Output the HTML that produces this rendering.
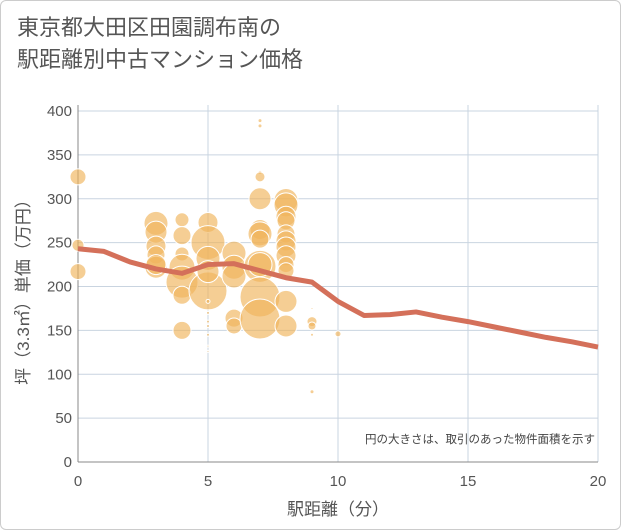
<!DOCTYPE html>
<html><head><meta charset="utf-8"><style>
body{margin:0;background:#fff;font-family:"Liberation Sans","Noto Sans CJK JP",sans-serif;}
#wrap{position:relative;width:619px;height:528px;border:1px solid #ccc;border-radius:6px;overflow:hidden;}
#title{position:absolute;left:16px;top:11px;font-size:22px;line-height:32px;color:#555;}
</style></head><body>
<div id="wrap">
<div id="title">東京都大田区田園調布南の<br>駅距離別中古マンション価格</div>
<svg id="chart" width="621" height="530" style="position:absolute;left:0;top:0"></svg>
</div>
<script>
const xTicks=[0,5,10,15,20];
const yTicks=[0,50,100,150,200,250,300,350,400];
const lineX=[0,1,2,3,4,5,6,7,8,9,10,11,12,13,14,15,16,17,18,19,20];
const lineY=[243,240,228,220,215,225,226,218,210,205,183,167,168,171,165,160,154,148,142,137,131];
const bubX=[0,0,0,3,3,3,3,3,3,4,4,4,4,4,4,4,5,5,5,5,5,5,5,5,5,5,5,5,6,6,6,6,6,7,7,7,7,7,7,7,7,7,7,7,7,8,8,8,8,8,8,8,8,8,8,8,8,9,9,9,9,9,10];
const bubY=[325,247,217,272,262,246,236,222,225,276,258,237,222,205,190,150,273,250,232,195,217,183,170,160,155,145,132,126,238,222,212,164,155,389,383,330,325,300,265,260,254,223,225,188,163,298,293,280,275,260,252,245,235,225,218,183,155,175,160,155,145,80,146];
const bubR=[8,6,8,12,11,10,9,11,10,7,9,7,13,16,9,9,10,17,12,19,11,2,1.5,1.5,1.5,1.5,1,1,12,12,12,9,8,2,2,2,5,11,10,12,9,16,12,20,20,12,12,10,9,9,10,10,10,8,8,11,11,1,5,4,1.5,2,3];
const X=v=>77+v*26, Y=v=>461-v*0.8775;
const svg=document.getElementById('chart'),NS='http://www.w3.org/2000/svg';
function mk(t,a,p){const e=document.createElementNS(NS,t);for(const k in a)e.setAttribute(k,a[k]);(p||svg).appendChild(e);return e;}
yTicks.forEach(v=>{const l=mk('line',{x1:77,x2:597,y1:Y(v),y2:Y(v),stroke:'#c9d4e0','stroke-width':1});


const t=mk('text',{x:71,y:Y(v)+5,'text-anchor':'end','font-size':15,fill:'#555'});t.textContent=v;

});
xTicks.forEach(v=>{const l=mk('line',{x1:X(v),x2:X(v),y1:104,y2:461,stroke:'#c9d4e0','stroke-width':1});


const t=mk('text',{x:X(v),y:485,'text-anchor':'middle','font-size':15,fill:'#555'});t.textContent=v;

});
const ax=mk('line',{x1:77,x2:77,y1:104,y2:461,stroke:'#888'});


const ax2=mk('line',{x1:77,x2:597,y1:461,y2:461,stroke:'#888'});


bubX.forEach((v,i)=>{const c=mk('circle',{cx:X(v),cy:Y(bubY[i]),r:bubR[i],fill:'rgba(240,180,90,0.65)',stroke:'#fff','stroke-width':1});

});
const pl=mk('polyline',{points:lineX.map((v,i)=>X(v)+','+Y(lineY[i])).join(' '),fill:'none',stroke:'#d4705a','stroke-width':5,'stroke-linejoin':'round'});


const n=mk('text',{x:594,y:442,'text-anchor':'end','font-size':11.5,fill:'#444'});n.textContent='円の大きさは、取引のあった物件面積を示す';


const xt=mk('text',{x:337,y:514,'text-anchor':'middle','font-size':17,fill:'#555'});xt.textContent='駅距離（分）';


const yt=mk('text',{x:0,y:0,'text-anchor':'middle','font-size':17,fill:'#555',transform:'translate(28,287) rotate(-90)'});yt.textContent='坪（3.3㎡）単価（万円）';


</script>
</body></html>
